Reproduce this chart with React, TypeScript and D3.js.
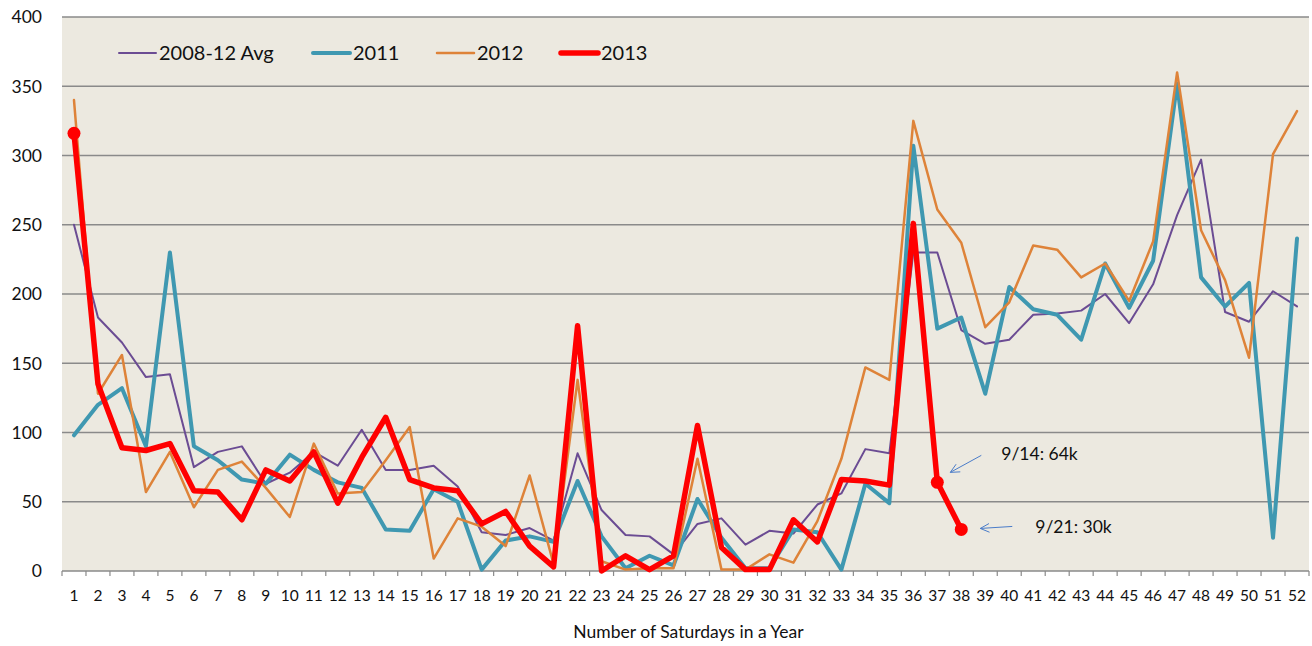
import * as d3 from "d3";

// weeks of the year (x categories)
const weeks = d3.range(1, 53);
const yTicks = [0, 50, 100, 150, 200, 250, 300, 350, 400];

// values (thousands)
const avg0812 = [
  250, 183, 165, 140, 142, 75, 86, 90, 63, 71, 86, 76, 102, 73, 73, 76, 61, 28, 26, 31, 22, 85, 44, 26, 25, 12,
  34, 38, 19, 29, 27, 48, 56, 88, 85, 230, 230, 174, 164, 167, 185, 186, 188, 200, 179, 207, 257, 297, 187, 180, 202, 191,
];
const s2011 = [
  98, 120, 132, 90, 230, 90, 80, 66, 63, 84, 73, 64, 60, 30, 29, 59, 50, 1, 22, 25, 21, 65, 25, 2, 11, 4,
  52, 24, 2, 2, 30, 28, 1, 63, 49, 307, 175, 183, 128, 205, 189, 185, 167, 222, 190, 224, 352, 212, 191, 208, 24, 240,
];
const s2012 = [
  340, 128, 156, 57, 86, 46, 73, 79, 60, 39, 92, 56, 57, 80, 104, 9, 38, 32, 18, 69, 5, 138, 7, 1, 2, 2,
  81, 1, 1, 12, 6, 36, 81, 147, 138, 325, 261, 237, 176, 194, 235, 232, 212, 222, 195, 238, 360, 246, 210, 154, 301, 332,
];
const s2013 = [
  316, 135, 89, 87, 92, 58, 57, 37, 73, 65, 86, 49, 82, 111, 66, 60, 58, 34, 43, 18, 3, 177, 0, 11, 1, 11,
  105, 17, 1, 1, 37, 21, 66, 65, 62, 251, 64, 30,
];
const markerWeeks2013 = [1, 37, 38];

const annotationLabels = ["9/14: 64k", "9/21: 30k"];
const annotationWeeks = [37, 38];

const seriesNames = ["2008-12 Avg", "2011", "2012", "2013"];
const seriesValues = [avg0812, s2011, s2012, s2013];
const seriesColors = ["#6B4C93", "#3F98B1", "#DE8339", "#FF0000"];
const seriesWidths = [2, 4, 2.5, 5.5];

const W = 1312;
const H = 646;
const left = 62;
const right = 1309;
const top = 17;
const bottom = 571;
const font = "Lato, 'Open Sans', sans-serif";

// layout of the annotation arrows relative to their data point
const annotationLayout = [
  { from: [44, -27], to: [13, -10], text: [64, -22] },
  { from: [51, -3], to: [19, -1], text: [74, 4] },
];

function arrowHead(x1: number, y1: number, x2: number, y2: number) {
  const ang = Math.atan2(y1 - y2, x1 - x2);
  const len = 10;
  const spread = 0.45;
  const a = [x2 + len * Math.cos(ang + spread), y2 + len * Math.sin(ang + spread)];
  const b = [x2 + len * Math.cos(ang - spread), y2 + len * Math.sin(ang - spread)];
  return `M${a[0]},${a[1]}L${x2},${y2}L${b[0]},${b[1]}`;
}

export default function App() {
  const x = d3.scaleBand<number>().domain(weeks).range([left, right]).paddingInner(0).paddingOuter(0);
  const cx = (w: number) => (x(w) as number) + x.bandwidth() / 2;
  const y = d3.scaleLinear().domain([0, 400]).range([bottom, top]);

  const line = d3
    .line<number>()
    .x((_, i) => cx(weeks[i]))
    .y((d) => y(d));

  const legendX = [119, 313, 437, 561];
  const tickEdges = [...weeks.map((w) => x(w) as number), right];

  return (
    <svg
      width={W}
      height={H}
      style={{ position: "absolute", left: 0, top: 0, background: "#fff" }}
      fontFamily={font}
    >
      <rect x={left} y={top} width={right - left} height={bottom - top} fill="#ECE9E0" />

      {yTicks.map((t) => (
        <g key={t}>
          <line x1={left} x2={right} y1={y(t)} y2={y(t)} stroke="#8A8A8A" strokeWidth={1.5} />
          <text x={42} y={y(t)} dy="0.36em" textAnchor="end" fontSize={17.5} fill="#111">
            {t}
          </text>
        </g>
      ))}

      {tickEdges.map((e, i) => (
        <line key={i} x1={e} x2={e} y1={bottom} y2={bottom + 5} stroke="#8A8A8A" strokeWidth={1.2} />
      ))}
      {weeks.map((w) => (
        <text key={w} x={cx(w)} y={601} textAnchor="middle" fontSize={15.5} fill="#111">
          {w}
        </text>
      ))}
      <text x={(left + right) / 2 + 3} y={638} textAnchor="middle" fontSize={17.5} fill="#111">
        Number of Saturdays in a Year
      </text>

      {seriesValues.map((vals, i) => (
        <path
          key={seriesNames[i]}
          d={line(vals) || undefined}
          fill="none"
          stroke={seriesColors[i]}
          strokeWidth={seriesWidths[i]}
          strokeLinejoin="round"
          strokeLinecap="round"
        />
      ))}

      {markerWeeks2013.map((w) => (
        <circle key={w} cx={cx(w)} cy={y(s2013[w - 1])} r={6.5} fill="#FF0000" />
      ))}

      {annotationLabels.map((label, i) => {
        const w = annotationWeeks[i];
        const px = cx(w);
        const py = y(s2013[w - 1]);
        const L = annotationLayout[i];
        const x1 = px + L.from[0];
        const y1 = py + L.from[1];
        const x2 = px + L.to[0];
        const y2 = py + L.to[1];
        return (
          <g key={label}>
            <line x1={x1} y1={y1} x2={x2} y2={y2} stroke="#4A7CC9" strokeWidth={1} />
            <path d={arrowHead(x1, y1, x2, y2)} fill="none" stroke="#4A7CC9" strokeWidth={1} />
            <text x={px + L.text[0]} y={py + L.text[1]} fontSize={17.5} fill="#111">
              {label}
            </text>
          </g>
        );
      })}

      {seriesNames.map((name, i) => (
        <g key={name}>
          <line
            x1={legendX[i]}
            x2={legendX[i] + 37}
            y1={53}
            y2={53}
            stroke={seriesColors[i]}
            strokeWidth={seriesWidths[i]}
            strokeLinecap="round"
          />
          <text x={legendX[i] + 40} y={60} fontSize={20} fill="#111">
            {name}
          </text>
        </g>
      ))}
    </svg>
  );
}
